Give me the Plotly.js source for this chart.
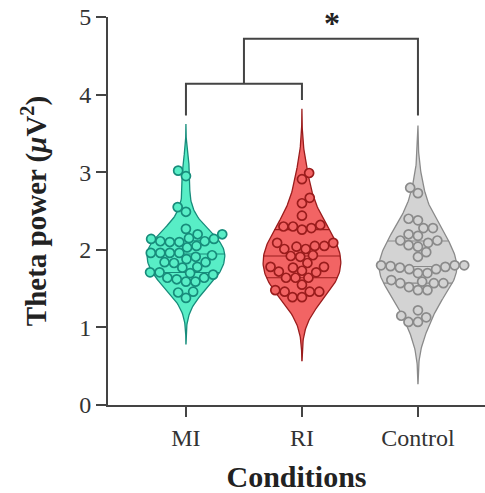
<!DOCTYPE html>
<html>
<head>
<meta charset="utf-8">
<script src="https://cdn.plot.ly/plotly-3.0.1.min.js"></script>
<style>html,body{margin:0;padding:0;background:#fff;}#chart{width:485px;height:493px;}</style>
</head>
<body>
<div id="chart"></div>
<script>
// ---- data ----
const categories = ["MI", "RI", "Control"];
const miValues = [3.02,2.95,2.55,2.49,2.27,2.14,2.14,2.15,2.20,2.20,2.10,2.10,2.11,2.11,2.05,2.03,1.96,1.96,1.96,1.91,1.96,1.93,1.84,1.84,1.88,1.83,1.77,1.78,1.64,1.71,1.71,1.70,1.68,1.62,1.59,1.59,1.64,1.46,1.45,1.38];
const riValues = [2.99,2.91,2.67,2.60,2.44,2.30,2.28,2.26,2.32,2.30,2.05,2.04,2.05,2.01,2.09,2.01,2.09,1.92,1.93,1.91,1.83,1.78,1.78,1.73,1.72,1.77,1.71,1.64,1.64,1.64,1.55,1.48,1.46,1.46,1.46,1.39,1.39];
const controlValues = [2.80,2.73,2.38,2.40,2.28,2.28,2.20,2.12,2.18,2.06,2.04,2.09,2.12,1.97,1.91,1.80,1.79,1.75,1.78,1.75,1.77,1.80,1.80,1.70,1.70,1.57,1.57,1.61,1.59,1.57,1.48,1.48,1.52,1.22,1.13,1.15,1.07,1.07];
const yTickValues = [0, 1, 2, 3, 4, 5];
// significance brackets (category index, value)
const bracketInnerX = [0, 0, 1, 1];
const bracketInnerY = [3.73, 4.14, 4.14, 3.93];
const bracketOuterX = [0.5, 0.5, 2, 2];
const bracketOuterY = [4.14, 4.72, 4.72, 3.73];
const starLabel = "*";

// ---- styles ----
const fills = ["#58eec6", "#f26464", "#d3d3d3"];
const edges = ["#178c7b", "#9a1c1c", "#8a8a8a"];
const W = 485, H = 493;
const M = {l: 108, r: 0, t: 17, b: 88};
const xRange = [-0.672, 2.578];
const yRange = [0, 5];
const pxY = (H - M.t - M.b) / (yRange[1] - yRange[0]);
const pxX = (W - M.l - M.r) / (xRange[1] - xRange[0]);
const halfMax = 0.335;
const markerD = 9.5;
const bwScale = 1.3;

function quantile(sorted, p) {
  const idx = (sorted.length - 1) * p;
  const lo = Math.floor(idx), hi = Math.ceil(idx);
  return sorted[lo] + (sorted[hi] - sorted[lo]) * (idx - lo);
}
function kde(vals, bw, y) {
  let s = 0;
  for (const v of vals) s += Math.exp(-0.5 * ((y - v) / bw) ** 2);
  return s;
}
function beeswarm(vals) {
  const order = vals.map((v, i) => i).sort((a, b) => vals[a] - vals[b]);
  const placed = [];
  const xs = new Array(vals.length);
  let flip = 1;
  for (const i of order) {
    const yp = vals[i] * pxY;
    const blocks = [];
    for (const p of placed) {
      const dy = Math.abs(p.y - yp);
      if (dy < markerD) {
        const dx = Math.sqrt(markerD * markerD - dy * dy);
        blocks.push([p.x - dx, p.x + dx]);
      }
    }
    const cands = [0];
    blocks.forEach(b => { cands.push(b[0], b[1]); });
    let best = null;
    for (const c of cands) {
      let ok = true;
      for (const b of blocks) if (c > b[0] + 1e-6 && c < b[1] - 1e-6) { ok = false; break; }
      if (!ok) continue;
      if (best === null || Math.abs(c) < Math.abs(best) - 1e-6 ||
          (Math.abs(Math.abs(c) - Math.abs(best)) < 1e-6 && Math.sign(c) === flip)) best = c;
    }
    flip = -flip;
    xs[i] = best;
    placed.push({x: best, y: yp});
  }
  return xs;
}

const groups = [miValues, riValues, controlValues];
const traces = [];
groups.forEach((vals, g) => {
  const n = vals.length;
  const sorted = vals.slice().sort((a, b) => a - b);
  const mean = vals.reduce((a, b) => a + b, 0) / n;
  const sd = Math.sqrt(vals.reduce((a, b) => a + (b - mean) ** 2, 0) / (n - 1));
  const q1 = quantile(sorted, 0.25), med = quantile(sorted, 0.5), q3 = quantile(sorted, 0.75);
  const bw = bwScale * 1.059 * Math.min(sd, (q3 - q1) / 1.349) * Math.pow(n, -0.2);
  const ext = 3.0 * bw;
  const y0 = sorted[0] - ext, y1 = sorted[n - 1] + ext;
  const steps = 160;
  const ys = [], ds = [];
  for (let k = 0; k <= steps; k++) {
    const y = y0 + (y1 - y0) * k / steps;
    ys.push(y); ds.push(kde(vals, bw, y));
  }
  const maxD = Math.max(...ds);
  const hw = ds.map(d => halfMax * d / maxD);
  const ox = [], oy = [];
  for (let k = 0; k <= steps; k++) { ox.push(g + hw[k]); oy.push(ys[k]); }
  for (let k = steps; k >= 0; k--) { ox.push(g - hw[k]); oy.push(ys[k]); }
  traces.push({
    type: "scatter", mode: "lines", x: ox, y: oy, fill: "toself",
    fillcolor: fills[g], line: {color: edges[g], width: 1.3}, hoverinfo: "skip", showlegend: false
  });
  // quartile lines
  const lx = [], ly = [];
  [q1, med, q3].forEach(q => {
    const w = halfMax * kde(vals, bw, q) / maxD;
    lx.push(g - w, g + w, null); ly.push(q, q, null);
  });
  traces.push({
    type: "scatter", mode: "lines", x: lx, y: ly,
    line: {color: edges[g], width: 1.1}, hoverinfo: "skip", showlegend: false
  });
  const sw = beeswarm(vals);
  traces.push({
    type: "scatter", mode: "markers",
    x: sw.map(s => g + s / pxX), y: vals,
    marker: {size: 9, color: fills[g], line: {color: edges[g], width: 1.7}},
    name: categories[g], showlegend: false
  });
});

traces.push({type: "scatter", mode: "lines", x: bracketInnerX, y: bracketInnerY,
  line: {color: "#444", width: 2}, hoverinfo: "skip", showlegend: false});
traces.push({type: "scatter", mode: "lines", x: bracketOuterX, y: bracketOuterY,
  line: {color: "#444", width: 2}, hoverinfo: "skip", showlegend: false});

const serif = "Liberation Serif, Times New Roman, serif";
const layout = {
  width: W, height: H,
  margin: M,
  paper_bgcolor: "#fff", plot_bgcolor: "#fff",
  showlegend: false,
  font: {family: serif, color: "#333"},
  xaxis: {
    range: xRange, tickmode: "array", tickvals: [0, 1, 2], ticktext: categories,
    showline: true, linecolor: "#444", linewidth: 2, ticks: "outside", ticklen: 10,
    tickwidth: 2, tickcolor: "#444", showgrid: false, zeroline: false,
    tickfont: {family: serif, size: 24, color: "#333"},
    title: {text: "<b>Conditions</b>", font: {family: serif, size: 30, color: "#222"}, standoff: 18}
  },
  yaxis: {
    range: yRange, tickmode: "array", tickvals: yTickValues,
    showline: true, linecolor: "#444", linewidth: 2, ticks: "outside", ticklen: 10,
    tickwidth: 2, tickcolor: "#444", showgrid: false, zeroline: false,
    tickfont: {family: serif, size: 24, color: "#333"},
    title: {text: "<b>Theta power (<i>μ</i>V<sup>2</sup>)</b>", font: {family: serif, size: 29, color: "#222"}, standoff: 24}
  },
  annotations: [{
    x: 1.26, y: 4.92, xref: "x", yref: "y", text: "<b>" + starLabel + "</b>", showarrow: false,
    font: {family: serif, size: 32, color: "#222"}, yanchor: "middle"
  }]
};
Plotly.newPlot("chart", traces, layout, {displayModeBar: false, staticPlot: true});
</script>
</body>
</html>
